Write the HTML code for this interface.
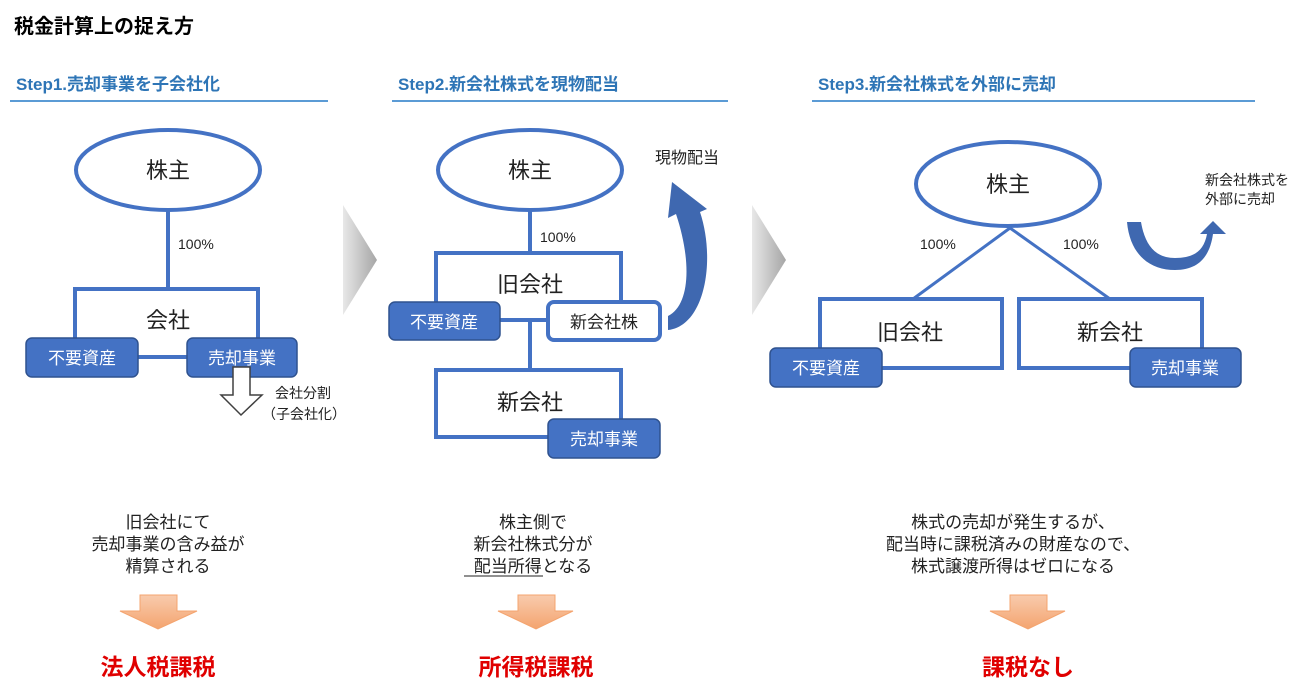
<!DOCTYPE html>
<html><head><meta charset="utf-8"><style>
html,body{margin:0;padding:0;background:#fff;width:1314px;height:697px;overflow:hidden}
svg text{font-family:"Liberation Sans","Noto Sans CJK JP",sans-serif}
</style></head><body>
<svg width="1314" height="697" viewBox="0 0 1314 697" xmlns="http://www.w3.org/2000/svg">
<defs>
<linearGradient id="g" x1="0" x2="1" y1="0" y2="0"><stop offset="0" stop-color="#e8e8e8"/><stop offset="1" stop-color="#a6a6a6"/></linearGradient>
<linearGradient id="o" x1="0" x2="0" y1="0" y2="1"><stop offset="0" stop-color="#f8cbad"/><stop offset="1" stop-color="#f4a46f"/></linearGradient>
</defs>
<text x="14" y="33" font-size="20" font-weight="bold" fill="#000">税金計算上の捉え方</text>
<g font-size="17" font-weight="bold" fill="#2e75b6">
<text x="16" y="90">Step1.売却事業を子会社化</text>
<text x="398" y="90">Step2.新会社株式を現物配当</text>
<text x="818" y="90">Step3.新会社株式を外部に売却</text>
</g>
<g stroke="#5b9bd5" stroke-width="2"><line x1="10" y1="101" x2="328" y2="101"/><line x1="392" y1="101" x2="728" y2="101"/><line x1="812" y1="101" x2="1255" y2="101"/></g>
<polygon points="343,205 377,260 343,315" fill="url(#g)"/>
<polygon points="752,205 786,260 752,315" fill="url(#g)"/>
<g fill="none" stroke="#4472c4" stroke-width="4">
<ellipse cx="168" cy="170" rx="92" ry="40" fill="#fff"/>
<line x1="168" y1="210" x2="168" y2="288"/>
<polyline points="75,345 75,289 258,289 258,345"/>
<line x1="138" y1="357" x2="187" y2="357"/>
<ellipse cx="530" cy="170" rx="92" ry="40" fill="#fff"/>
<line x1="530" y1="210" x2="530" y2="253"/>
<polyline points="436,308 436,253 621,253 621,308"/>
<line x1="500" y1="320" x2="548" y2="320"/>
<line x1="530" y1="320" x2="530" y2="370"/>
<polyline points="600,437 436,437 436,370 621,370 621,420"/>
<ellipse cx="1008" cy="184" rx="92" ry="42" fill="#fff"/>
<polyline points="913,299 1010,228 1110,299" stroke-width="3"/>
<polyline points="880,368 820,368 820,299 1002,299 1002,368 880,368"/>
<polyline points="1130,368 1019,368 1019,299 1202,299 1202,350"/>
</g>
<g fill="#4472c4" stroke="#2f528f" stroke-width="1.5">
<rect x="26" y="338" width="112" height="39" rx="6"/>
<rect x="187" y="338" width="110" height="39" rx="6"/>
<rect x="389" y="302" width="111" height="38" rx="6"/>
<rect x="548" y="419" width="112" height="39" rx="6"/>
<rect x="770" y="348" width="112" height="39" rx="6"/>
<rect x="1130" y="348" width="111" height="39" rx="6"/>
</g>
<rect x="548" y="302" width="112" height="38" rx="6" fill="#fff" stroke="#4472c4" stroke-width="4"/>
<g font-size="17" fill="#fff" text-anchor="middle">
<text x="82" y="364">不要資産</text><text x="242" y="364">売却事業</text>
<text x="444" y="328">不要資産</text><text x="604" y="445">売却事業</text>
<text x="826" y="374">不要資産</text><text x="1185" y="374">売却事業</text>
</g>
<text x="604" y="328" font-size="17" fill="#222" text-anchor="middle">新会社株</text>
<g font-size="22" fill="#222" text-anchor="middle">
<text x="168" y="178">株主</text><text x="168" y="328">会社</text>
<text x="530" y="178">株主</text><text x="530" y="292">旧会社</text><text x="530" y="410">新会社</text>
<text x="1008" y="192">株主</text><text x="910" y="340">旧会社</text><text x="1110" y="340">新会社</text>
</g>
<g font-size="14" fill="#222">
<text x="178" y="249">100%</text><text x="540" y="242">100%</text>
<text x="920" y="249">100%</text><text x="1063" y="249">100%</text>
<text x="275" y="398">会社分割</text><text x="262" y="419">（子会社化）</text>
<text x="655" y="163" font-size="16">現物配当</text>
<text x="1205" y="185">新会社株式を</text><text x="1205" y="204">外部に売却</text>
</g>
<polygon points="233,367 250,367 250,395 262,395 241,415 221,395 233,395" fill="#fff" stroke="#404040" stroke-width="1.5"/>
<path d="M668,330 C705,326 716,260 700,212 L707,209 L672,182 L668,218 L676,214 C692,262 690,305 668,316 Z" fill="#3f68b0"/>
<path d="M1127,222 C1130,255 1150,270 1175,270 C1200,270 1210,255 1213,234 L1226,234 L1213,221 L1200,234 L1207,234 C1204,250 1195,258 1175,258 C1155,258 1145,245 1141,222 Z" fill="#3f68b0"/>
<g font-size="17" fill="#222" text-anchor="middle">
<text x="168" y="528">旧会社にて</text><text x="168" y="550">売却事業の含み益が</text><text x="168" y="572">精算される</text>
<text x="533" y="528">株主側で</text><text x="533" y="550">新会社株式分が</text><text x="533" y="572">配当所得となる</text>
<text x="1013" y="528">株式の売却が発生するが、</text><text x="1013" y="550">配当時に課税済みの財産なので、</text><text x="1013" y="572">株式譲渡所得はゼロになる</text>
</g>
<line x1="464" y1="576" x2="543" y2="576" stroke="#222" stroke-width="1"/>
<g fill="url(#o)" stroke="#f4a46f" stroke-width="1">
<polygon points="140,595 177,595 177,611 197,611 158,629 120,611 140,611"/>
<polygon points="518,595 555,595 555,611 573,611 536,629 498,611 518,611"/>
<polygon points="1010,595 1047,595 1047,611 1065,611 1028,629 990,611 1010,611"/>
</g>
<g font-size="23" font-weight="bold" fill="#e00000" text-anchor="middle">
<text x="158" y="675">法人税課税</text><text x="536" y="675">所得税課税</text><text x="1028" y="675">課税なし</text>
</g>
</svg>
</body></html>
